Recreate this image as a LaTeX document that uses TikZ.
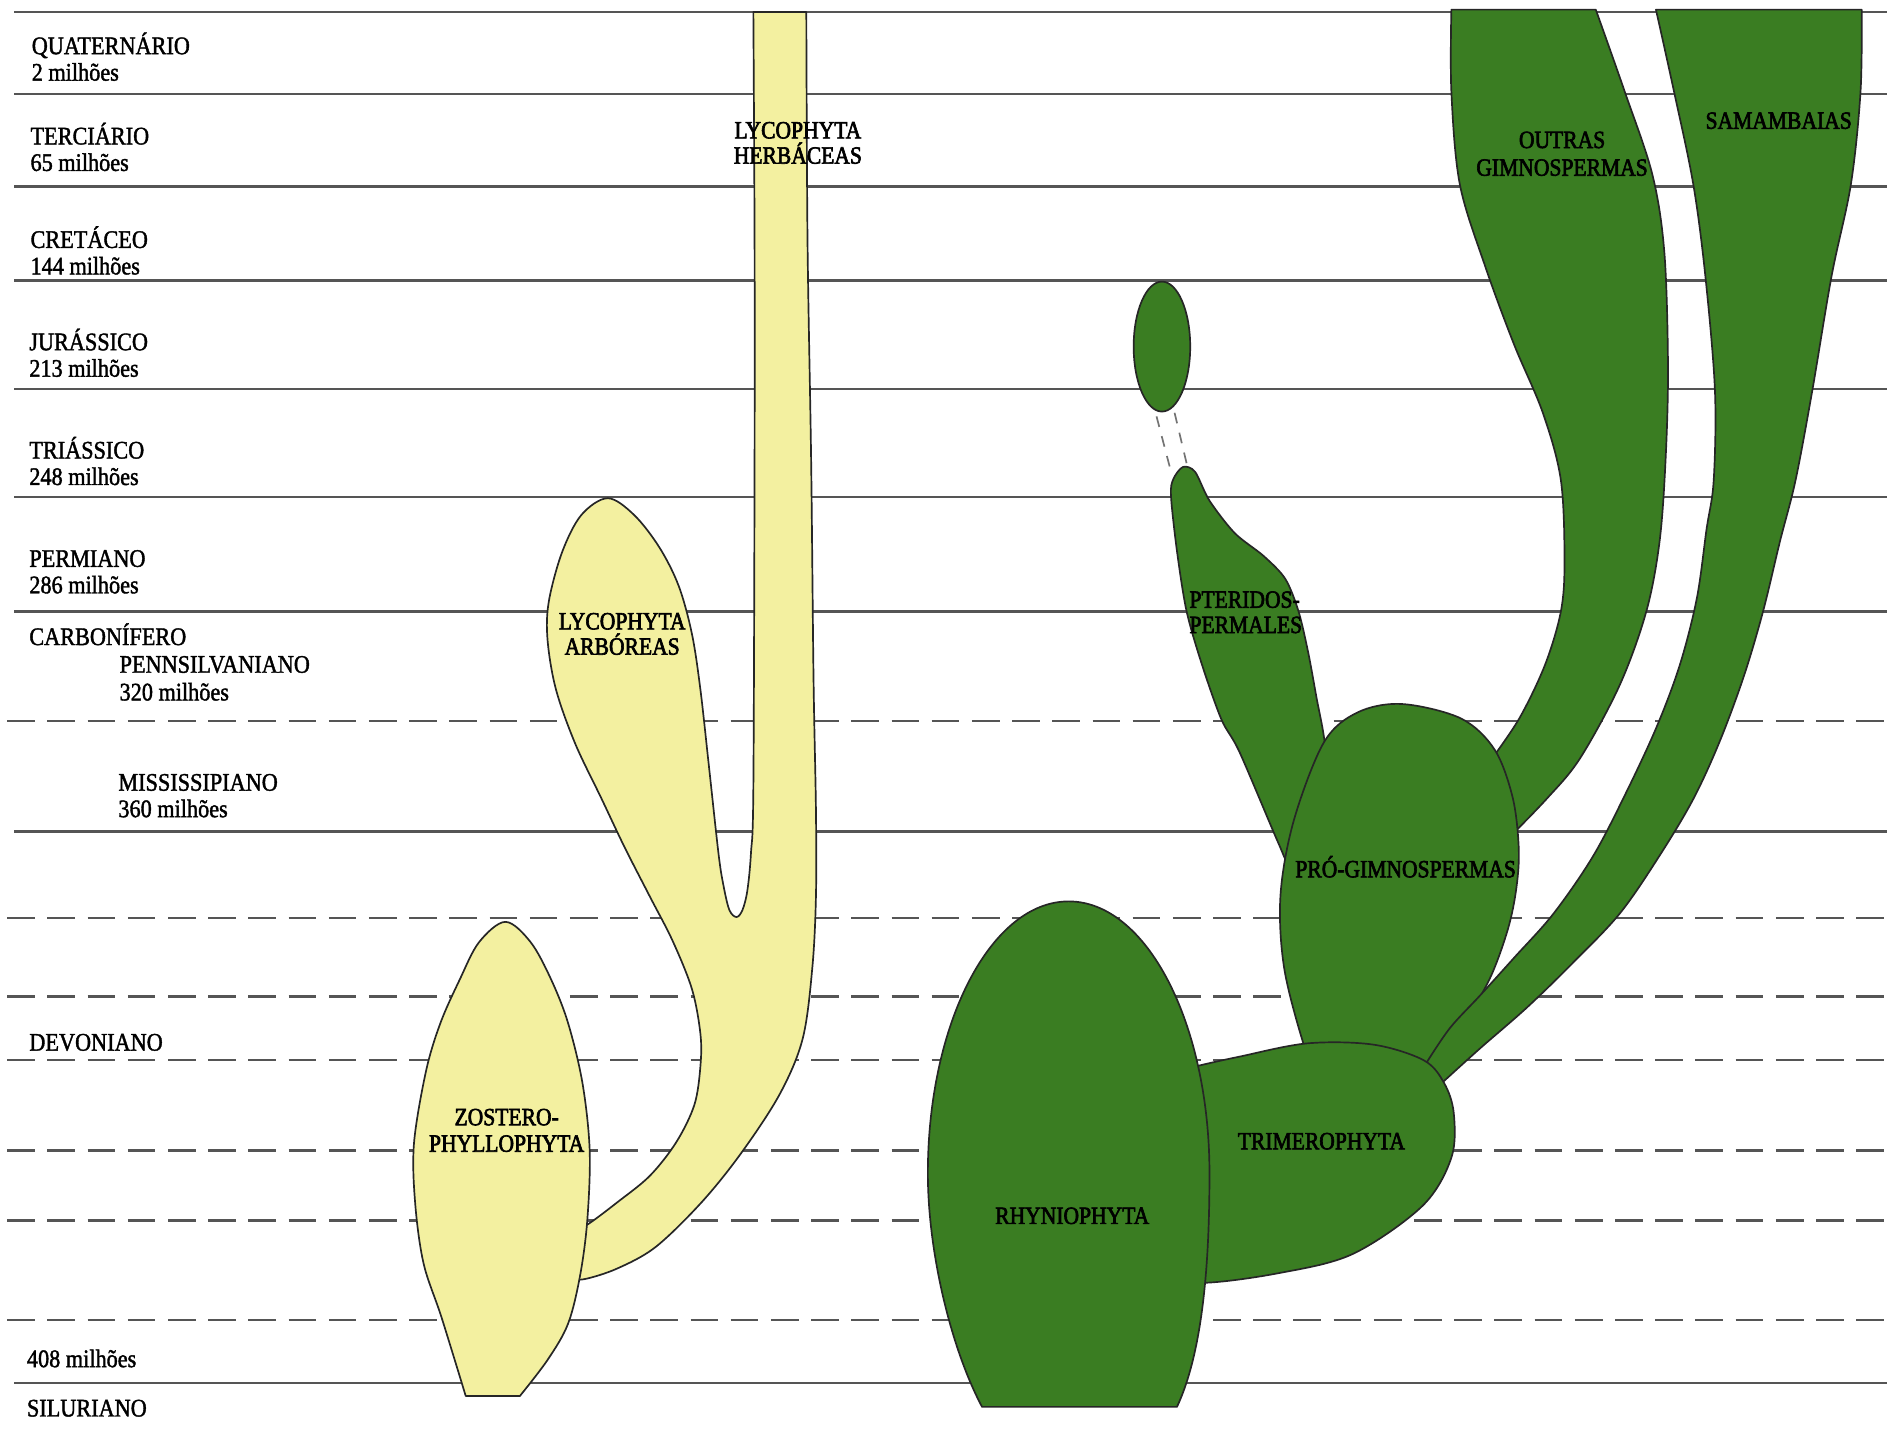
\documentclass[tikz,border=0pt]{standalone}
\usepackage{fontspec}
\setmainfont{Liberation Serif}[FakeStretch=0.88, FakeBold=1.5]
\newfontfamily\grpfont{Liberation Serif}[FakeStretch=0.87, FakeBold=2.5]
\definecolor{lyc}{HTML}{F3F0A0}
\definecolor{grn}{HTML}{3A7D22}
\definecolor{rulec}{HTML}{555555}
\tikzset{
  hline/.style={draw=rulec, line width=1pt},
  dline/.style={draw=rulec, line width=1pt, dash pattern=on 11.5pt off 5.2pt},
  yshape/.style={fill=lyc, draw=black!85, line width=0.7pt, line join=round},
  gshape/.style={fill=grn, draw=black!85, line width=0.7pt, line join=round},
  gapline/.style={draw=black!55, line width=0.7pt, dash pattern=on 4.5pt off 4pt},
  lbl/.style={inner sep=0pt, font=\fontsize{10.5}{12}\selectfont},
  glbl/.style={inner sep=0pt, font=\grpfont\fontsize{10.3}{12}\selectfont},
  sm/.style={smooth, tension=0.55},
}
\begin{document}
\begin{tikzpicture}[x=0.5pt,y=-0.5pt]
\useasboundingbox (0,0) rectangle (1568,1188);
\fill[white] (0,0) rectangle (1568,1188);

% time lines
\foreach \yy in {10,78,155,233,323,413,508,691,1149}
  \draw[hline] (12,\yy) -- (1568,\yy);
\foreach \yy in {599,763,828,881,956,1014,1097}
  \draw[dline] (6,\yy) -- (1568,\yy);

% Lycophyta (arboreas + herbaceas)
\path[yshape] plot[sm] coordinates {(470,1062) (485,1063) (513,1054) (545,1036) (583,999) (616,958) (648,909) (667,863) (675,804) (678,745) (678,673) (676,564) (674,382) (671,200) (670,10)}
  -- plot[sm] coordinates {(626,10) (627,200) (627,382) (626,654) (624,709) (621,740) (617,756) (612,762) (606,756) (601,735) (597,709) (589,636) (582,573) (575,527) (564,487) (548,455) (527,428) (505,414) (483,428) (467,459) (456,500) (455,532) (462,573) (478,618) (500,664) (519,704) (540,745) (559,782) (575,822) (582,859) (582,886) (577,918) (562,949) (540,977) (513,999) (489,1017) (470,1028)} -- cycle;

% Zosterophyllophyta
\path[yshape] plot[sm] coordinates {(432,1160) (455,1130) (472,1100) (482,1060) (488,1014) (490,956) (484,900) (472,850) (458,814) (441,783) (420,766) (398,783) (382,814) (366,850) (354,890) (344,950) (345,1000) (352,1050) (367,1095) (387,1160)} -- cycle;

% Outras gimnospermas
\path[gshape] plot[sm] coordinates {(1206,8) (1206,76) (1213,153) (1234,221) (1258,286) (1282,343) (1297,399) (1300,467) (1297,508) (1284,552) (1263,596) (1240,630)}
  -- (1230,660) --
  plot[sm] coordinates {(1250,700) (1285,664) (1313,630) (1346,569) (1368,508) (1379,450) (1384,382) (1386,305) (1383,210) (1373,145) (1350,76) (1326,8)} -- cycle;

% Pteridospermales
\path[gshape] plot[smooth cycle, tension=0.5] coordinates {(983,388) (993,392) (1005,416) (1026,443) (1050,462) (1068,481) (1079,508) (1087,542) (1094,580) (1101,619) (1105,680) (1095,740) (1072,720) (1062,700) (1030,625) (1015,598) (999,553) (986,508) (978,458) (973,412) (975,398)};

% Pro-gimnospermas
\path[gshape] plot[smooth cycle, tension=0.55] coordinates {(1165,585) (1214,597) (1242,623) (1257,663) (1262,705) (1260,738) (1253,772) (1238,813) (1216,850) (1187,883) (1150,900) (1095,895) (1083,867) (1067,804) (1064,744) (1075,682) (1100,617) (1128,592)};

% Samambaias
\path[gshape] plot[sm] coordinates {(1376,8) (1391,76) (1407,153) (1417,229) (1425,324) (1424,399) (1418,440) (1410,497) (1396,552) (1377,603) (1352,657) (1324,711) (1291,759) (1258,796) (1230,827) (1205,854) (1186,882)}
  -- (1185,905) -- (1198,905) --
  plot[sm] coordinates {(1198,900) (1230,871) (1269,837) (1307,800) (1346,759) (1379,711) (1407,664) (1429,616) (1449,562) (1465,508) (1479,450) (1492,399) (1506,324) (1522,229) (1538,153) (1546,76) (1547,8)} -- cycle;

% Trimerophyta
\path[gshape] plot[smooth cycle, tension=0.55] coordinates {(960,895) (994,886) (1030,878) (1086,867) (1141,868) (1183,881) (1200,900) (1208,925) (1206,962) (1182,1002) (1124,1042) (1062,1058) (999,1066) (960,1060)};

% Rhyniophyta
\path[gshape] (771,975) arc[start angle=180, end angle=360, x radius=117, y radius=226]
  .. controls (1005,1040) and (1001,1120) .. (978,1169) -- (816,1169)
  .. controls (790,1120) and (771,1040) .. (771,975) -- cycle;

% isolated Mesozoic pteridosperm group
\path[gshape] (965.5,288) ellipse [x radius=23.5, y radius=54];
\coordinate (d1s) at (961,346);
\coordinate (d1e) at (972,388);
\coordinate (d2s) at (976,343);
\coordinate (d2e) at (986,385);
\draw[gapline] (d1s) -- (d1e);
\draw[gapline] (d2s) -- (d2e);

% left time labels
\node[lbl,anchor=base west] (lq)  at (26,45)  {QUATERNÁRIO};
\node[lbl,anchor=base west] (lqm) at (26,67)  {2 milhões};
\node[lbl,anchor=base west] (lt)  at (25,120) {TERCIÁRIO};
\node[lbl,anchor=base west] (ltm) at (25,142) {65 milhões};
\node[lbl,anchor=base west] (lc)  at (25,206) {CRETÁCEO};
\node[lbl,anchor=base west] (lcm) at (25,228) {144 milhões};
\node[lbl,anchor=base west] (lj)  at (24,291) {JURÁSSICO};
\node[lbl,anchor=base west] (ljm) at (24,313) {213 milhões};
\node[lbl,anchor=base west] (ltr) at (24,381) {TRIÁSSICO};
\node[lbl,anchor=base west] (ltrm) at (24,403) {248 milhões};
\node[lbl,anchor=base west] (lp)  at (24,471) {PERMIANO};
\node[lbl,anchor=base west] (lpm) at (24,493) {286 milhões};
\node[lbl,anchor=base west] (lca) at (24,536) {CARBONÍFERO};
\node[lbl,anchor=base west] (lpe) at (99,559) {PENNSILVANIANO};
\node[lbl,anchor=base west] (lpem) at (99,582) {320 milhões};
\node[lbl,anchor=base west] (lmi) at (98,657) {MISSISSIPIANO};
\node[lbl,anchor=base west] (lmim) at (98,679) {360 milhões};
\node[lbl,anchor=base west] (ld)  at (24,873) {DEVONIANO};
\node[lbl,anchor=base west] (l408) at (22,1136) {408 milhões};
\node[lbl,anchor=base west] (ls)  at (22,1177) {SILURIANO};

% group labels
\node[glbl,anchor=base] (herb1) at (663,115) {LYCOPHYTA};
\node[glbl,anchor=base] (herb2) at (663,136) {HERBÁCEAS};
\node[glbl,anchor=base] (arb1) at (517,523) {LYCOPHYTA};
\node[glbl,anchor=base] (arb2) at (517,544) {ARBÓREAS};
\node[glbl,anchor=base] (zos1) at (421,935) {ZOSTERO-};
\node[glbl,anchor=base] (zos2) at (421,957) {PHYLLOPHYTA};
\node[glbl,anchor=base west] (pte1) at (988,505) {PTERIDOS-};
\node[glbl,anchor=base west] (pte2) at (988,526) {PERMALES};
\node[glbl,anchor=base] (prog) at (1168,729) {PRÓ-GIMNOSPERMAS};
\node[glbl,anchor=base] (trim) at (1098,955) {TRIMEROPHYTA};
\node[glbl,anchor=base] (rhyn) at (891,1017) {RHYNIOPHYTA};
\node[glbl,anchor=base] (outr1) at (1298,123) {OUTRAS};
\node[glbl,anchor=base] (outr2) at (1298,146) {GIMNOSPERMAS};
\node[glbl,anchor=base] (sama) at (1478,107) {SAMAMBAIAS};
\end{tikzpicture}
\end{document}
